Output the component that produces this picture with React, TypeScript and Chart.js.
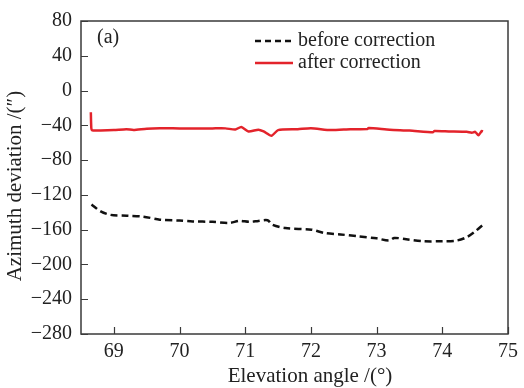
import React, { useEffect, useRef } from "react";
import { Chart, registerables } from "chart.js";
Chart.register(...registerables);

const xTicks = [69, 70, 71, 72, 73, 74, 75];
const yTicks = [80, 40, 0, -40, -80, -120, -160, -200, -240, -280];

const beforeAngles = [68.66, 68.8, 68.95, 69.2, 69.45, 69.7, 70.0, 70.2, 70.5, 70.76, 70.91, 71.06, 71.2, 71.34, 71.41, 71.61, 72.01, 72.21, 72.45, 72.71, 73.0, 73.19, 73.27, 73.45, 73.72, 74.0, 74.22, 74.37, 74.5, 74.61];
const beforeValues = [-131, -139, -143, -144, -145, -148.5, -149.5, -150.5, -151, -152.3, -149.8, -151, -150, -149.1, -154.3, -158.2, -160, -163.9, -165.5, -167.6, -170, -172.5, -169.5, -171, -173.3, -173.3, -172.5, -168.7, -162, -155];

const afterAngles = [68.65, 68.655, 68.665, 68.8, 69.0, 69.19, 69.3, 69.5, 69.7, 70.0, 70.2, 70.5, 70.7, 70.85, 70.94, 71.05, 71.2, 71.28, 71.4, 71.5, 71.8, 72.0, 72.3, 72.6, 72.86, 72.88, 73.2, 73.5, 73.86, 73.88, 74.1, 74.37, 74.45, 74.5, 74.55, 74.6, 74.62];
const afterValues = [-25, -40, -45.5, -45.8, -45.5, -44.5, -45.3, -43.8, -43.3, -43.5, -43.5, -43.5, -43.5, -44.8, -41.8, -47, -45, -47, -52, -45.5, -44.5, -43.3, -45.5, -44.5, -44.2, -43, -45, -46, -48, -46.5, -47, -47.5, -48.5, -47.5, -51.5, -46.5, -47];

const seriesNames = ["before correction", "after correction"];
const xTitle = "Elevation angle /(°)";
const yTitle = "Azimuth deviation /(″)";
const panelLabel = "(a)";

const FONT = "'Liberation Serif', 'Times New Roman', serif";
const RED = "#e3232b";

const framePlugin = {
  id: "frame",
  afterDraw(chart: any) {
    const { ctx, chartArea: a, scales } = chart;
    ctx.save();
    ctx.strokeStyle = "#3a3a3a";
    ctx.lineWidth = 1.5;
    ctx.strokeRect(a.left, a.top, a.right - a.left, a.bottom - a.top);
    ctx.lineWidth = 1.2;
    ctx.beginPath();
    for (const v of yTicks) {
      const y = Math.round(scales.y.getPixelForValue(v)) + 0.5;
      ctx.moveTo(a.left, y);
      ctx.lineTo(a.left + 7, y);
    }
    for (const v of xTicks) {
      const x = Math.round(scales.x.getPixelForValue(v)) + 0.5;
      ctx.moveTo(x, a.bottom);
      ctx.lineTo(x, a.bottom - 7);
    }
    ctx.stroke();

    // legend
    ctx.lineWidth = 2.5;
    ctx.strokeStyle = "#111";
    ctx.setLineDash([6, 4]);
    ctx.beginPath();
    ctx.moveTo(255, 41);
    ctx.lineTo(293, 41);
    ctx.stroke();
    ctx.setLineDash([]);
    ctx.strokeStyle = RED;
    ctx.beginPath();
    ctx.moveTo(255, 63);
    ctx.lineTo(293, 63);
    ctx.stroke();

    ctx.fillStyle = "#222";
    ctx.font = `20px ${FONT}`;
    ctx.textBaseline = "middle";
    ctx.textAlign = "left";
    ctx.fillText(seriesNames[0], 298, 41);
    ctx.fillText(seriesNames[1], 298, 63);
    ctx.fillText(panelLabel, 97, 38);

    // axis titles
    ctx.font = `21px ${FONT}`;
    ctx.textAlign = "center";
    ctx.fillText(xTitle, 310, 376);
    ctx.save();
    ctx.translate(15, 186);
    ctx.rotate(-Math.PI / 2);
    ctx.fillText(yTitle, 0, 0);
    ctx.restore();
    ctx.restore();
  },
};

export default function App() {
  const ref = useRef<HTMLCanvasElement>(null);
  useEffect(() => {
    document.body.style.margin = "0";
    const toPts = (xs: number[], ys: number[]) => xs.map((x, i) => ({ x, y: ys[i] }));
    const chart = new Chart(ref.current!, {
      type: "line",
      data: {
        datasets: [
          {
            label: seriesNames[0],
            data: toPts(beforeAngles, beforeValues),
            borderColor: "#111",
            borderWidth: 2.5,
            borderDash: [7, 4],
            pointRadius: 0,
            tension: 0.3,
          },
          {
            label: seriesNames[1],
            data: toPts(afterAngles, afterValues),
            borderColor: RED,
            borderWidth: 2.5,
            pointRadius: 0,
            tension: 0.2,
          },
        ],
      },
      options: {
        animation: false,
        responsive: false,
        maintainAspectRatio: false,
        layout: { padding: { top: 17, right: 11, left: 0, bottom: 0 } },
        plugins: { legend: { display: false }, tooltip: { enabled: false } },
        scales: {
          x: {
            type: "linear",
            min: 68.5,
            max: 75,
            grid: { display: false, drawTicks: false },
            border: { display: false },
            afterBuildTicks: (s: any) => { s.ticks = xTicks.map((v) => ({ value: v })); },
            afterFit: (s: any) => { s.height = 54; },
            ticks: { color: "#222", padding: 6, font: { family: FONT, size: 20 }, maxRotation: 0 },
          },
          y: {
            type: "linear",
            min: -280,
            max: 80,
            grid: { display: false, drawTicks: false },
            border: { display: false },
            afterBuildTicks: (s: any) => { s.ticks = yTicks.map((v) => ({ value: v })); },
            afterFit: (s: any) => { s.width = 81; },
            ticks: {
              color: "#222",
              padding: 9,
              font: { family: FONT, size: 20 },
              callback: (v: any) => String(v).replace("-", "\u2212"),
            },
          },
        },
      },
      plugins: [framePlugin],
    });
    return () => chart.destroy();
  }, []);
  return <canvas ref={ref} width={524} height={388} style={{ display: "block" }} />;
}
